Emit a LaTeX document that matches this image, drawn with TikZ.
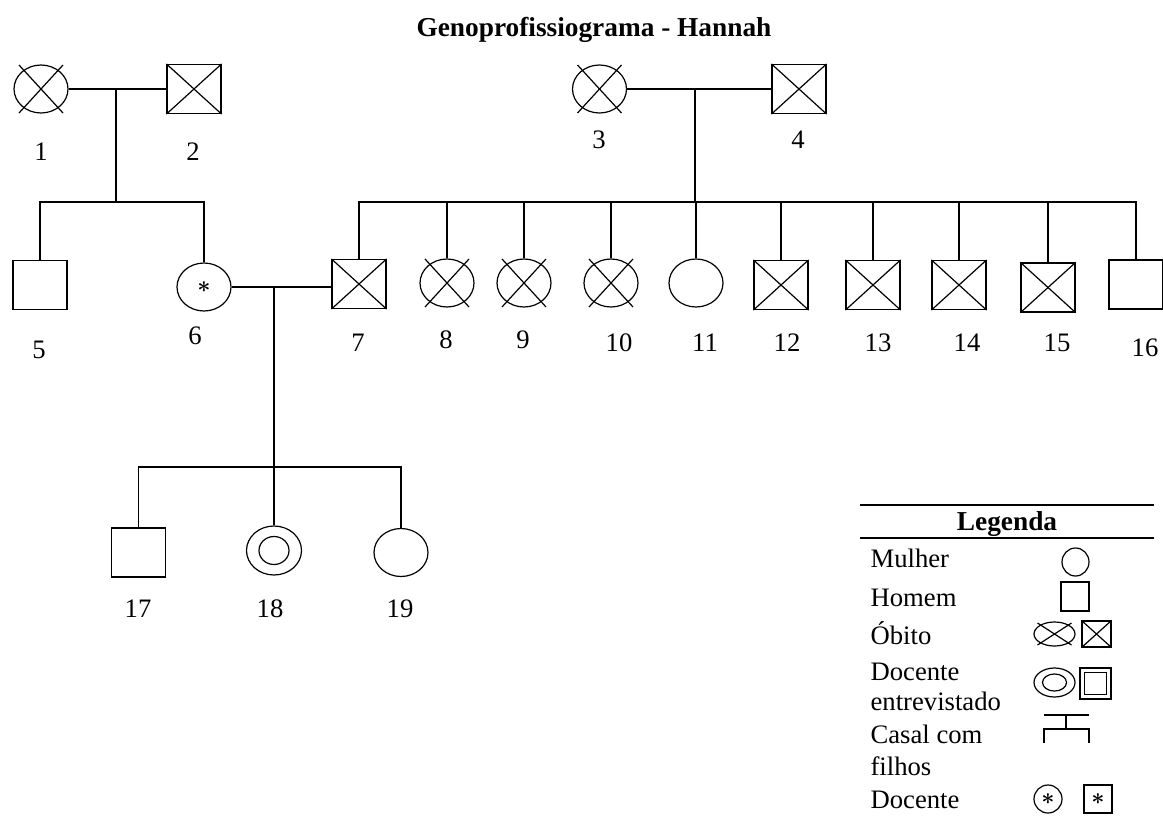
\documentclass[tikz,border=0pt]{standalone}
\usepackage{fontspec}
\setmainfont{LiberationSerif}[Extension=.ttf, UprightFont=*-Regular, BoldFont=*-Bold, ItalicFont=*-Italic, BoldItalicFont=*-BoldItalic]
\usetikzlibrary{shapes.geometric}
\begin{document}
\begin{tikzpicture}[x=0.75pt,y=-0.75pt, line width=0.9pt,
  every node/.style={font=\fontsize{20}{24}\selectfont, inner sep=0pt},
  fem/.style={draw, ellipse, minimum width=40.5pt, minimum height=36pt},
  male/.style={draw, rectangle, minimum width=40.5pt, minimum height=36.75pt},
  num/.style={anchor=center},
  ltxt/.style={anchor=base west},
  star/.style={font=\fontsize{19}{22}\selectfont\boldmath},
  bold/.style={font=\fontsize{20.5}{24}\selectfont\bfseries, anchor=base}]
\useasboundingbox (0,0) rectangle (1163,817);

% title
\node[bold] (title) at (594,37) {Genoprofissiograma - Hannah};

% persons
\node[fem]  (n1) at (41,89) {};
\node[male] (n2) at (194,89) {};
\node[fem]  (n3) at (599.5,89) {};
\node[male] (n4) at (799,89) {};
\node[male] (n5) at (40,285) {};
\node[fem, star]  (n6) at (204,287) {$\ast$};
\node[male] (n7) at (359,284) {};
\node[fem]  (n8) at (447,283) {};
\node[fem]  (n9) at (524,283) {};
\node[fem]  (n10) at (611,283) {};
\node[fem]  (n11) at (696,283) {};
\node[male] (n12) at (781,285) {};
\node[male] (n13) at (873,285) {};
\node[male] (n14) at (959,285) {};
\node[male] (n15) at (1048,287.5) {};
\node[male] (n16) at (1136,284.5) {};
\node[male] (n17) at (138.5,552.5) {};
\node[fem, minimum width=41.25pt, minimum height=36.75pt] (n18) at (274,550.5) {};
\draw (n18.center) ellipse [x radius=11.25pt, y radius=10.5pt];
\node[fem]  (n19) at (401,552.5) {};

% deceased marks
\foreach \n in {n1,n3,n8,n9,n10}{
  \draw ([shift={(-22,-24)}]\n.center) -- ([shift={(22,24)}]\n.center);
  \draw ([shift={(22,-24)}]\n.center) -- ([shift={(-22,24)}]\n.center);
}
\foreach \n in {n2,n4,n7,n12,n13,n14,n15}{
  \draw (\n.north west) -- (\n.south east);
  \draw (\n.north east) -- (\n.south west);
}

% connectors
\coordinate (c12) at (116,89);
\coordinate (s12) at (116,202);
\draw (n1) -- (n2);
\draw (c12) -- (s12);
\draw (n5.north) |- (s12) -| (n6.north);

\coordinate (c34) at (695,89);
\coordinate (s34) at (695,202);
\draw (n3) -- (n4);
\draw (c34) -- (s34);
\draw (n7.north) |- (s34) -| (n16.north);
\foreach \k in {8,...,15}{
  \draw (n\k.north) -- (n\k.north |- s34);
}

\coordinate (c67) at (274,287);
\coordinate (s67) at (274,467);
\draw (n6.east) -- (n6.east -| n7.west);
\draw (c67) -- (s67);
\draw (n17.north) |- (s67) -| (n19.north);
\draw (n18.north) -- (s67);

% number labels
\node[num] (l1) at (41,152) {1};
\node[num] (l2) at (193,152) {2};
\node[num] (l3) at (599,140) {3};
\node[num] (l4) at (798,140) {4};
\node[num] (l5) at (39,350) {5};
\node[num] (l6) at (195,336) {6};
\node[num] (l7) at (358,343) {7};
\node[num] (l8) at (446,340) {8};
\node[num] (l9) at (523,340) {9};
\node[num] (l10) at (619,343) {10};
\node[num] (l11) at (705,343) {11};
\node[num] (l12) at (787,343) {12};
\node[num] (l13) at (878,343) {13};
\node[num] (l14) at (967,343) {14};
\node[num] (l15) at (1057,343) {15};
\node[num] (l16) at (1145,348) {16};
\node[num] (l17) at (138,609) {17};
\node[num] (l18) at (270,609) {18};
\node[num] (l19) at (400,609) {19};

% legend
\draw (860,505) -- (1154,505);
\draw (860,538) -- (1154,538);
\node[bold] (lg) at (1007,530) {Legenda};
\node[ltxt] (t1) at (870,567) {Mulher};
\node[ltxt] (t2) at (870,606) {Homem};
\node[ltxt] (t3) at (870,644) {Óbito};
\node[ltxt] (t4) at (870,680) {Docente};
\node[ltxt] (t5) at (870,710) {entrevistado};
\node[ltxt] (t6) at (870,743) {Casal com};
\node[ltxt] (t7) at (870,775) {filhos};
\node[ltxt] (t8) at (870,808) {Docente};

\node[draw, ellipse, minimum width=20.25pt, minimum height=21pt] (sm) at (1075.5,562) {};
\node[draw, rectangle, minimum width=21pt, minimum height=21.75pt] (sh) at (1075,596.5) {};
\node[draw, ellipse, minimum width=30.75pt, minimum height=18pt] (so1) at (1054.5,634) {};
\draw ([shift={(-17,-11)}]so1.center) -- ([shift={(17,11)}]so1.center);
\draw ([shift={(17,-11)}]so1.center) -- ([shift={(-17,11)}]so1.center);
\node[draw, rectangle, minimum width=21.75pt, minimum height=19.5pt] (so2) at (1096.5,634) {};
\draw (so2.north west) -- (so2.south east);
\draw (so2.north east) -- (so2.south west);
\node[draw, ellipse, minimum width=30.75pt, minimum height=21.75pt] (se1) at (1054.5,682.5) {};
\draw (se1.center) ellipse [x radius=9pt, y radius=6.4pt];
\node[draw, rectangle, minimum width=23.25pt, minimum height=23.25pt] (se2) at (1095.5,683.5) {};
\node[draw, rectangle, minimum width=16.5pt, minimum height=16.5pt] (se3) at (se2.center) {};
\draw (1044,715) -- (1089,715);
\draw (1066,715) -- (1066,729);
\draw (1044,743) -- (1044,729) -- (1089,729) -- (1089,743);
\node[draw, ellipse, star, minimum width=21pt, minimum height=21pt] (sd1) at (1048,799) {$\ast$};
\node[draw, rectangle, star, minimum width=21pt, minimum height=21pt] (sd2) at (1098,799) {$\ast$};
\end{tikzpicture}
\end{document}
